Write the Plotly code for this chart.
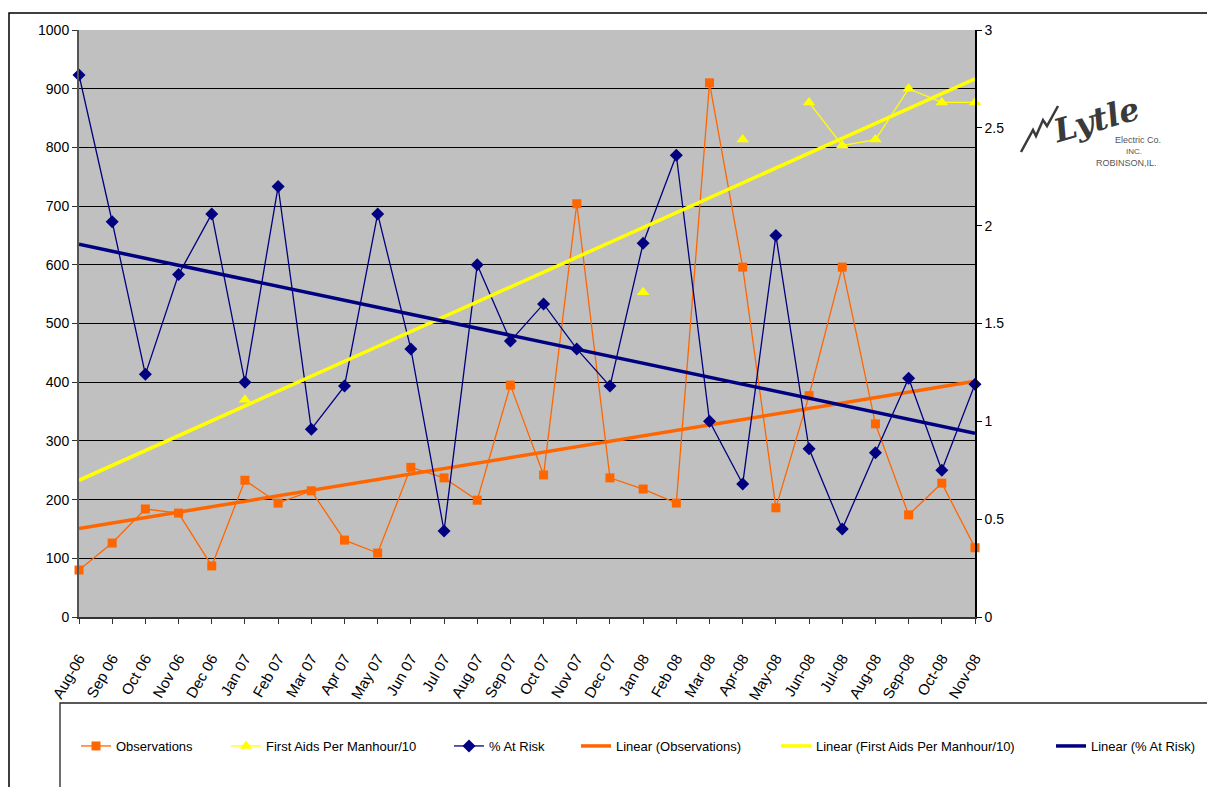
import numpy as np
import plotly.graph_objects as go

categories = ["Aug-06", "Sep 06", "Oct 06", "Nov 06", "Dec 06", "Jan 07", "Feb 07", "Mar 07",
              "Apr 07", "May 07", "Jun 07", "Jul 07", "Aug 07", "Sep 07", "Oct 07", "Nov 07",
              "Dec 07", "Jan 08", "Feb 08", "Mar 08", "Apr-08", "May-08", "Jun-08", "Jul-08",
              "Aug-08", "Sep-08", "Oct-08", "Nov-08"]

observations = [80, 126, 184, 177, 87, 233, 194, 215, 131, 109, 255, 237, 199, 395,
                242, 704, 237, 218, 194, 910, 596, 186, 377, 596, 329, 174, 228, 118]

first_aids = [None, None, None, None, None, 1.11, None, None, None, None, None, None, None, None,
              None, None, None, 1.66, None, None, 2.44, None, 2.63, 2.41, 2.44, 2.70, 2.63, 2.63]

at_risk = [2.77, 2.02, 1.24, 1.75, 2.06, 1.20, 2.20, 0.96, 1.18, 2.06, 1.37, 0.44, 1.80, 1.41,
           1.60, 1.37, 1.18, 1.91, 2.36, 1.00, 0.68, 1.95, 0.86, 0.45, 0.84, 1.22, 0.75, 1.19]

left_ticks = list(range(0, 1001, 100))
right_ticks = [0, 0.5, 1, 1.5, 2, 2.5, 3]
right_labels = ["0", "0.5", "1", "1.5", "2", "2.5", "3"]

ORANGE = "#FF6600"
YELLOW = "#FFFF00"
NAVY = "#000080"
FONT = "Liberation Sans, Arial, sans-serif"

# plot area in pixels
L, R, T, B = 79, 975, 30, 617
W, H = 1207, 787


def px(x):
    return (x - L) / (R - L)


def py(y):
    return (B - y) / (B - T)


def trend(values):
    idx = [i for i, v in enumerate(values) if v is not None]
    vals = [values[i] for i in idx]
    slope, icpt = np.polyfit(idx, vals, 1)
    return [icpt, icpt + slope * (len(values) - 1)]


fig = go.Figure()

fig.add_trace(go.Scatter(x=categories, y=observations, name="Observations", mode="lines+markers",
                         line=dict(color=ORANGE, width=1.3),
                         marker=dict(symbol="square", size=9, color=ORANGE),
                         cliponaxis=False, legend="legend"))
fig.add_trace(go.Scatter(x=[categories[0], categories[-1]], y=trend(observations),
                         name="Linear (Observations)", mode="lines",
                         line=dict(color=ORANGE, width=3.5), legend="legend4"))
fig.add_trace(go.Scatter(x=categories, y=first_aids, name="First Aids Per Manhour/10",
                         mode="lines+markers", yaxis="y2", connectgaps=False,
                         line=dict(color=YELLOW, width=1.3),
                         marker=dict(symbol="triangle-up", size=11, color=YELLOW),
                         cliponaxis=False, legend="legend2"))
fig.add_trace(go.Scatter(x=categories, y=at_risk, name="% At Risk", mode="lines+markers",
                         yaxis="y2", line=dict(color=NAVY, width=1.3),
                         marker=dict(symbol="diamond", size=10, color=NAVY),
                         cliponaxis=False, legend="legend3"))
fig.add_trace(go.Scatter(x=[categories[0], categories[-1]], y=trend(first_aids),
                         name="Linear (First Aids Per Manhour/10)", mode="lines", yaxis="y2",
                         line=dict(color=YELLOW, width=3.5), legend="legend5"))
fig.add_trace(go.Scatter(x=[categories[0], categories[-1]], y=trend(at_risk),
                         name="Linear (% At Risk)", mode="lines", yaxis="y2",
                         line=dict(color=NAVY, width=3.5), legend="legend6"))

leg_y = py(746)
leg_common = dict(orientation="h", yanchor="middle", xanchor="left", y=leg_y,
                  bgcolor="rgba(0,0,0,0)", borderwidth=0,
                  font=dict(family=FONT, size=13, color="black"))
centers = [95, 245, 468, 595, 795, 1070]
legend_layout = {}
for k, c in enumerate(centers):
    key = "legend" if k == 0 else "legend%d" % (k + 1)
    legend_layout[key] = dict(leg_common, x=px(c - 19))

shapes = [
    # outer chart frame (cropped)
    dict(type="path", xref="paper", yref="paper",
         path="M %f,%f L %f,%f L %f,%f" % (px(9), py(790), px(9), py(13), px(1210), py(13)),
         line=dict(color="black", width=1.5)),
    # legend box (cropped)
    dict(type="rect", xref="paper", yref="paper",
         x0=px(60), y0=py(800), x1=px(1215), y1=py(703),
         line=dict(color="#222222", width=1.3), fillcolor="rgba(0,0,0,0)"),
    # lightning-like strokes of the logo
    dict(type="path", xref="paper", yref="paper",
         path="M %f,%f L %f,%f L %f,%f L %f,%f L %f,%f L %f,%f" % (
             px(1021), py(152), px(1033), py(130), px(1036), py(136), px(1043), py(120),
             px(1047), py(126), px(1058), py(106)),
         line=dict(color="#3a3a3a", width=2.5)),
]

annotations = [
    dict(xref="paper", yref="paper", x=px(1096), y=py(120), xanchor="center", yanchor="middle",
         text="Lytle", showarrow=False, textangle=-16,
         font=dict(family="DejaVu Serif", size=32, color="#3a3a3a", style="italic", weight="bold")),
    dict(xref="paper", yref="paper", x=px(1138), y=py(140), xanchor="center", yanchor="middle",
         text="Electric Co.", showarrow=False,
         font=dict(family=FONT, size=9, color="#555555")),
    dict(xref="paper", yref="paper", x=px(1134), y=py(151), xanchor="center", yanchor="middle",
         text="INC.", showarrow=False,
         font=dict(family=FONT, size=8, color="#555555")),
    dict(xref="paper", yref="paper", x=px(1126), y=py(163), xanchor="center", yanchor="middle",
         text="ROBINSON,IL.", showarrow=False,
         font=dict(family=FONT, size=9, color="#555555")),
]

fig.update_layout(
    width=W, height=H,
    margin=dict(l=L, r=W - R, t=T, b=H - B, autoexpand=False),
    paper_bgcolor="white",
    plot_bgcolor="#C0C0C0",
    font=dict(family=FONT, size=13, color="black"),
    showlegend=True,
    xaxis=dict(type="category", range=[0, len(categories) - 1], showgrid=False,
               tickangle=-60, ticks="outside", ticklen=5, tickcolor="#333333",
               showline=True, linecolor="#333333", linewidth=1.5,
               tickfont=dict(family=FONT, size=15), ticklabelstandoff=20),
    yaxis=dict(range=[0, 1000], tickvals=left_ticks, showgrid=True, gridcolor="black",
               gridwidth=1, zeroline=False, ticks="outside", ticklen=5, tickcolor="#333333",
               showline=True, linecolor="#555555", linewidth=2,
               tickfont=dict(family=FONT, size=14)),
    yaxis2=dict(range=[0, 3], tickvals=right_ticks, ticktext=right_labels,
                overlaying="y", side="right", showgrid=False, zeroline=False,
                ticks="outside", ticklen=5, tickcolor="black",
                showline=True, linecolor="black", linewidth=1.5,
                tickfont=dict(family=FONT, size=14)),
    shapes=shapes,
    annotations=annotations,
    **legend_layout,
)

fig.write_html("out.html")
